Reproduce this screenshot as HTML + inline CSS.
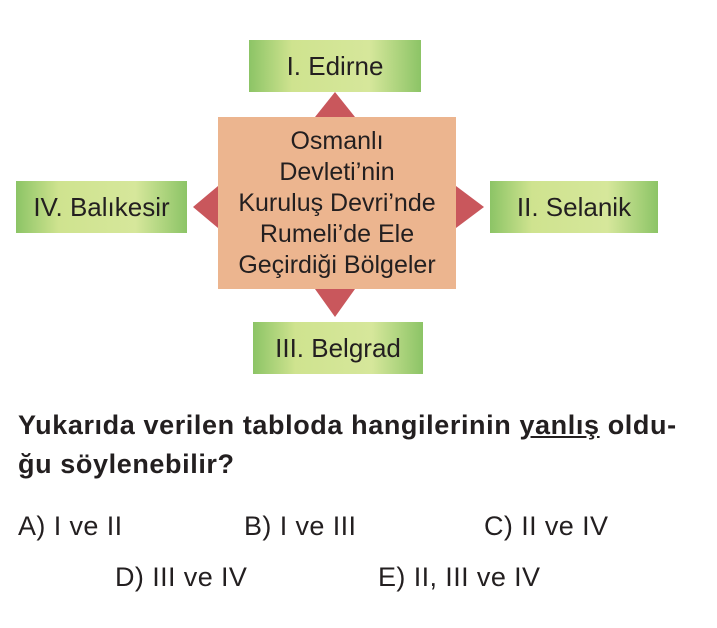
<!DOCTYPE html>
<html><head><meta charset="utf-8"><style>
body{margin:0;width:717px;height:628px;background:#fff;position:relative;font-family:"Liberation Sans",Arial,sans-serif;color:#231f20;overflow:hidden}
.g{position:absolute;height:52px;display:flex;align-items:center;justify-content:center;font-size:26px;background:linear-gradient(90deg,#8cc466 0%,#cfe38f 25%,#d6e79b 70%,#8cc466 100%)}
.t{position:absolute;width:0;height:0}
.a{position:absolute;font-size:27px;letter-spacing:0.4px;white-space:nowrap}
</style></head><body>
<div class="g" style="left:249px;top:40px;width:172px">I. Edirne</div>
<div class="g" style="left:16px;top:181px;width:171px">IV. Balıkesir</div>
<div class="g" style="left:490px;top:181px;width:168px">II. Selanik</div>
<div class="g" style="left:253px;top:322px;width:170px">III. Belgrad</div>
<div style="position:absolute;left:218px;top:117px;width:238px;height:172px;background:#ecb58f;display:flex;align-items:center;justify-content:center;text-align:center;font-size:25px;line-height:31px;white-space:nowrap">Osmanlı<br>Devleti’nin<br>Kuruluş Devri’nde<br>Rumeli’de Ele<br>Geçirdiği Bölgeler</div>
<div class="t" style="left:315px;top:92px;border-left:20px solid transparent;border-right:20px solid transparent;border-bottom:25px solid #c9575c"></div>
<div class="t" style="left:315px;top:289px;border-left:20px solid transparent;border-right:20px solid transparent;border-top:28px solid #c9575c"></div>
<div class="t" style="left:193px;top:186px;border-top:21px solid transparent;border-bottom:21px solid transparent;border-right:25px solid #c9575c"></div>
<div class="t" style="left:456px;top:186px;border-top:21px solid transparent;border-bottom:21px solid transparent;border-left:28px solid #c9575c"></div>
<div class="a" style="left:18px;top:410px;font-weight:bold;font-size:27px;letter-spacing:0.6px">Yukarıda verilen tabloda hangilerinin <span style="text-decoration:underline">yanlış</span> oldu-</div>
<div class="a" style="left:18px;top:449px;font-weight:bold;font-size:27px;letter-spacing:0.6px">ğu söylenebilir?</div>
<div class="a" style="left:18px;top:511px">A) I ve II</div>
<div class="a" style="left:244px;top:511px">B) I ve III</div>
<div class="a" style="left:484px;top:511px">C) II ve IV</div>
<div class="a" style="left:115px;top:562px">D) III ve IV</div>
<div class="a" style="left:378px;top:562px">E) II, III ve IV</div>
</body></html>
